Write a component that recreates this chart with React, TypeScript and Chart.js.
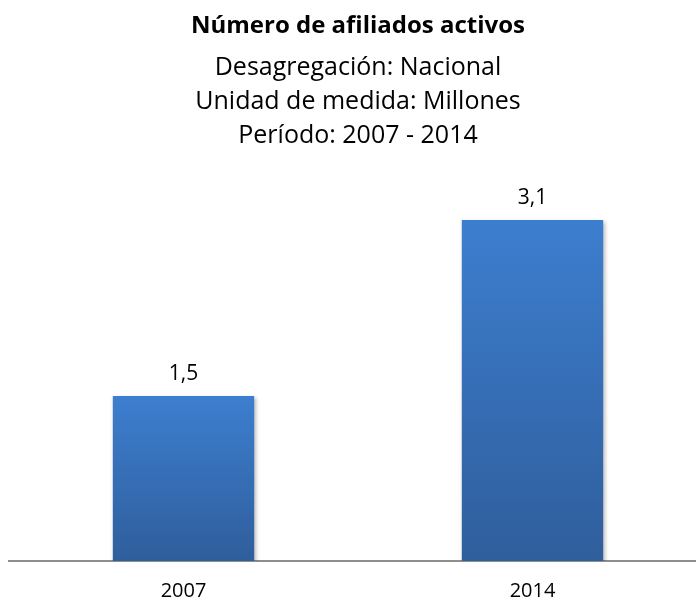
import React, { useEffect, useRef } from "react";
import { Chart, registerables } from "chart.js";

Chart.register(...registerables);

const categories = ["2007", "2014"];
const values = [1.5, 3.1];
const titleText = "Número de afiliados activos";
const subtitleLines = [
  "Desagregación: Nacional",
  "Unidad de medida: Millones",
  "Período: 2007 - 2014",
];

const FONT = "'Open Sans', 'Noto Sans', sans-serif";

const titlePlugin = {
  id: "customTitles",
  afterDraw(chart: any) {
    const ctx = chart.ctx;
    const area = chart.chartArea;
    ctx.save();
    ctx.fillStyle = "#000";
    ctx.textAlign = "center";
    ctx.textBaseline = "alphabetic";
    const cx = (area.left + area.right) / 2;
    ctx.font = `bold 24px ${FONT}`;
    ctx.fillText(titleText, cx, 33);
    ctx.font = `25px ${FONT}`;
    subtitleLines.forEach((l, i) => ctx.fillText(l, cx, 75 + i * 34));
    ctx.restore();
  },
};

const shadowPlugin = {
  id: "barShadow",
  beforeDatasetsDraw(chart: any) {
    const ctx = chart.ctx;
    ctx.save();
    ctx.shadowColor = "rgba(0,0,0,0.28)";
    ctx.shadowBlur = 4;
    ctx.shadowOffsetX = 1.5;
    ctx.shadowOffsetY = 1.5;
  },
  afterDatasetsDraw(chart: any) {
    chart.ctx.restore();
  },
};

const valueLabelPlugin = {
  id: "valueLabels",
  afterDatasetsDraw(chart: any) {
    const ctx = chart.ctx;
    const meta = chart.getDatasetMeta(0);
    ctx.save();
    ctx.fillStyle = "#000";
    ctx.textAlign = "center";
    ctx.textBaseline = "alphabetic";
    ctx.font = `21px ${FONT}`;
    meta.data.forEach((el: any, i: number) => {
      const txt = values[i].toFixed(1).replace(".", ",");
      ctx.fillText(txt, el.x, el.y - 16.5);
    });
    ctx.restore();
  },
};

export default function App() {
  const ref = useRef<HTMLCanvasElement>(null);
  useEffect(() => {
    if (!ref.current) return;
    const chart = new Chart(ref.current, {
      type: "bar",
      data: {
        labels: categories,
        datasets: [
          {
            data: values,
            backgroundColor: (c: any) => {
              const ch = c.chart;
              if (!ch.chartArea || c.type !== "data" || !ch.scales.y) return "#3a74c3";
              const ys = ch.scales.y;
              const top = ys.getPixelForValue(c.raw);
              const bot = ys.getPixelForValue(0);
              const g = ch.ctx.createLinearGradient(0, top, 0, bot);
              g.addColorStop(0, "#3d7ecf");
              g.addColorStop(1, "#2f5e9c");
              return g;
            },
            borderWidth: 0,
            categoryPercentage: 1,
            barPercentage: 0.405,
          },
        ],
      },
      options: {
        animation: false,
        responsive: false,
        maintainAspectRatio: false,
        layout: { padding: { top: 176, left: 9, right: 5, bottom: 0 } },
        plugins: {
          legend: { display: false },
          title: { display: false },
          tooltip: { enabled: false },
        },
        scales: {
          x: {
            grid: { display: false, drawTicks: false },
            border: { display: true, color: "#8e8e8e", width: 2 },
            ticks: {
              color: "#000",
              padding: 18.5,
              font: { family: FONT, size: 20 },
            },
            afterFit: (scale: any) => {
              scale.height = 39;
            },
          },
          y: {
            display: false,
            min: 0,
            max: 3.5,
          },
        },
      },
      plugins: [titlePlugin, shadowPlugin, valueLabelPlugin],
    });
    return () => chart.destroy();
  }, []);
  return (
    <div
      style={{
        position: "fixed",
        left: 0,
        top: 0,
        width: 696,
        height: 600,
        overflow: "hidden",
        background: "#fff",
      }}
    >
      <canvas ref={ref} width={712} height={600} style={{ width: 712, height: 600 }} />
    </div>
  );
}
